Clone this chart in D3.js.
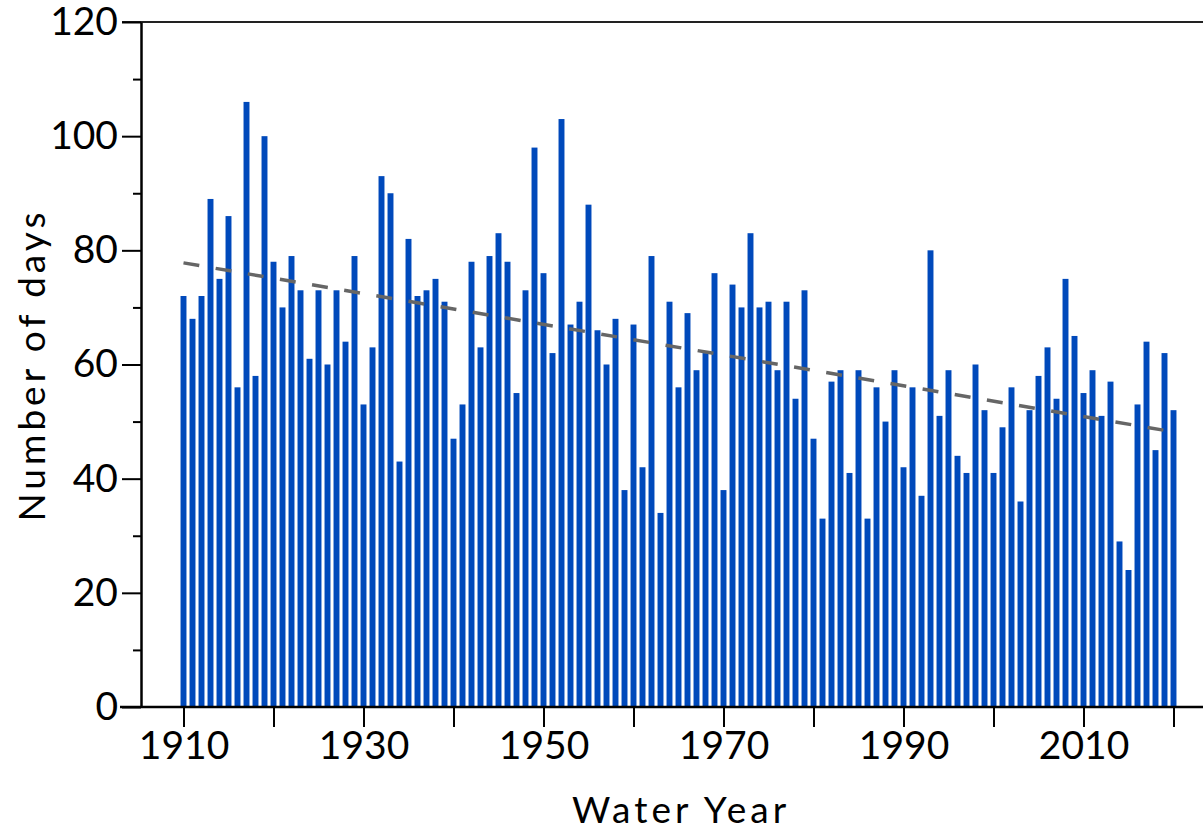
<!DOCTYPE html>
<html>
<head>
<meta charset="utf-8">
<script src="https://cdn.jsdelivr.net/npm/d3@7"></script>
<style>
  html, body { margin: 0; padding: 0; background: #fff; }
  svg { display: block; }
  text { font-family: Lato, "Open Sans", sans-serif; fill: #000; }
</style>
</head>
<body>
<svg id="chart" width="1203" height="830"></svg>
<script>
// ---- data ----
const years = d3.range(1910, 2021);
const days = [
  72, 68, 72, 89, 75, 86, 56, 106, 58, 100,
  78, 70, 79, 73, 61, 73, 60, 73, 64, 79,
  53, 63, 93, 90, 43, 82, 72, 73, 75, 71,
  47, 53, 78, 63, 79, 83, 78, 55, 73, 98,
  76, 62, 103, 67, 71, 88, 66, 60, 68, 38,
  67, 42, 79, 34, 71, 56, 69, 59, 62, 76,
  38, 74, 70, 83, 70, 71, 59, 71, 54, 73,
  47, 33, 57, 59, 41, 59, 33, 56, 50, 59,
  42, 56, 37, 80, 51, 59, 44, 41, 60, 52,
  41, 49, 56, 36, 52, 58, 63, 54, 75, 65,
  55, 59, 51, 57, 29, 24, 53, 64, 45, 62, 52
];
const trendYears = [1910, 2020];
const trendValues = [77.8, 48.2];
const yMajorTicks = [0, 20, 40, 60, 80, 100, 120];
const yMinorTicks = [10, 30, 50, 70, 90, 110];
const xTicks = [1910, 1920, 1930, 1940, 1950, 1960, 1970, 1980, 1990, 2000, 2010, 2020];
const xTickLabels = [1910, 1930, 1950, 1970, 1990, 2010];

// ---- layout ----
const W = 1203, H = 830;
const svg = d3.select("#chart");
svg.append("rect").attr("width", W).attr("height", H).attr("fill", "#fff");

const y = d3.scaleLinear().domain([0, 120]).range([707, 22]);
const x = d3.scaleLinear().domain([1910, 2020]).range([183.5, 1173.5]);
const axisX = 141;

const step = x(1911) - x(1910);
const barW = step * 0.66;

// bars
svg.append("g").selectAll("rect")
  .data(years.map((yr, i) => ({ yr, v: days[i] })))
  .join("rect")
  .attr("x", d => x(d.yr) - barW / 2)
  .attr("width", barW)
  .attr("y", d => y(d.v))
  .attr("height", d => y(0) - y(d.v))
  .attr("fill", "#0049BB");

// trend line
const trend = trendYears.map((yr, i) => [yr, trendValues[i]]);
svg.append("path")
  .attr("d", d3.line().x(d => x(d[0])).y(d => y(d[1]))(trend))
  .attr("fill", "none")
  .attr("stroke", "#666")
  .attr("stroke-width", 3.5)
  .attr("stroke-dasharray", "16,16.6");

// top line
svg.append("line")
  .attr("x1", 122).attr("x2", W)
  .attr("y1", y(120)).attr("y2", y(120))
  .attr("stroke", "#222").attr("stroke-width", 2);

// bottom axis line
svg.append("line")
  .attr("x1", 120).attr("x2", W)
  .attr("y1", y(0)).attr("y2", y(0))
  .attr("stroke", "#000").attr("stroke-width", 2.5);

// y axis major
const gy = svg.append("g").attr("transform", `translate(${axisX},0)`)
  .call(d3.axisLeft(y).tickValues(yMajorTicks).tickSize(19).tickPadding(4).tickSizeOuter(0));
gy.select(".domain").attr("stroke", "#000").attr("stroke-width", 2.5);
gy.selectAll(".tick line").attr("stroke", "#000").attr("stroke-width", 2);
gy.selectAll(".tick text").attr("font-size", 39).attr("font-family", "Lato, 'Open Sans', sans-serif").attr("fill", "#000");

// y axis minor
const gym = svg.append("g").attr("transform", `translate(${axisX},0)`)
  .call(d3.axisLeft(y).tickValues(yMinorTicks).tickSize(8).tickFormat(""));
gym.select(".domain").remove();
gym.selectAll(".tick line").attr("stroke", "#000").attr("stroke-width", 2);

// x axis
const gx = svg.append("g").attr("transform", `translate(0,${y(0)})`)
  .call(d3.axisBottom(x).tickValues(xTicks).tickSize(20).tickPadding(4).tickSizeOuter(0)
    .tickFormat(d => xTickLabels.includes(d) ? String(d) : ""));
gx.select(".domain").remove();
gx.selectAll(".tick line").attr("stroke", "#000").attr("stroke-width", 2);
gx.selectAll(".tick text").attr("font-size", 39).attr("font-family", "Lato, 'Open Sans', sans-serif").attr("fill", "#000");

// axis titles
svg.append("text")
  .attr("transform", "translate(45,365) rotate(-90)")
  .attr("text-anchor", "middle")
  .attr("font-size", 37)
  .attr("letter-spacing", 4)
  .text("Number of days");

svg.append("text")
  .attr("x", 681).attr("y", 823)
  .attr("text-anchor", "middle")
  .attr("font-size", 37)
  .attr("letter-spacing", 4)
  .text("Water Year");
</script>
</body>
</html>
